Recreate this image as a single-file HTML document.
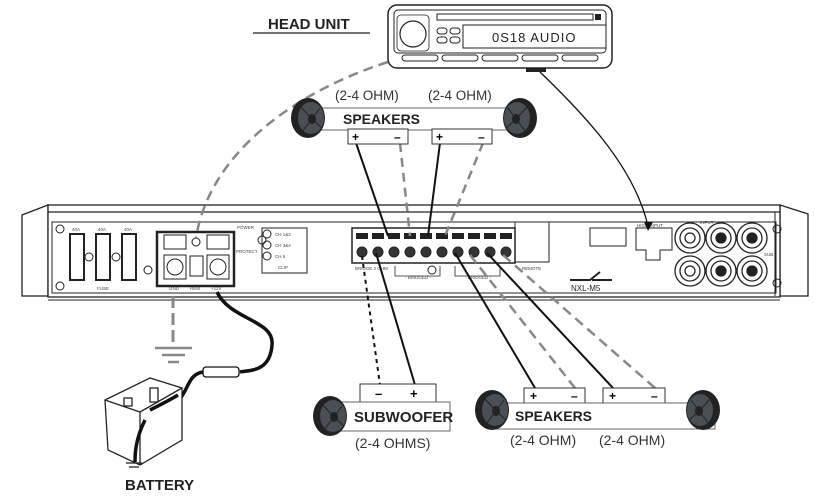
<!DOCTYPE html>
<html><head><meta charset="utf-8"><style>
html,body{margin:0;padding:0;background:#fff;width:815px;height:496px;overflow:hidden}
text{font-family:"Liberation Sans",sans-serif}
</style></head><body>
<svg width="815" height="496" viewBox="0 0 815 496" xmlns="http://www.w3.org/2000/svg">
<defs>
<g id="spk">
<ellipse cx="0" cy="0" rx="17" ry="20" fill="#222"/>
<ellipse cx="3" cy="0" rx="13" ry="16" fill="#4a4f55"/>
<ellipse cx="4" cy="1" rx="4" ry="5" fill="#222"/>
<path d="M-8,-12 L4,1 M12,-10 L4,1 M4,1 L-6,14 M4,1 L14,10" stroke="#222" stroke-width="1"/>
</g>
</defs>
<!-- ground -->
<g stroke="#888" stroke-width="2.5"><line x1="155" y1="348" x2="192" y2="348"/><line x1="162" y1="355" x2="185" y2="355"/><line x1="168" y1="362" x2="179" y2="362"/></g>
<!-- head unit -->
<text x="268" y="29" font-size="15" font-weight="bold" fill="#222">HEAD UNIT</text>
<line x1="253" y1="33" x2="370" y2="33" stroke="#222" stroke-width="1.3"/>
<rect x="388" y="5" width="224" height="63" rx="9" fill="#fff" stroke="#222" stroke-width="1.5"/>
<rect x="394" y="10" width="212" height="43" rx="4" fill="none" stroke="#222" stroke-width="1"/>
<circle cx="413" cy="34" r="13" fill="none" stroke="#222" stroke-width="1.2"/>
<rect x="397" y="15" width="32" height="36" rx="4" fill="none" stroke="#222" stroke-width="0.8"/>
<rect x="437" y="14" width="156" height="6" fill="none" stroke="#222" stroke-width="1"/>
<rect x="595" y="14" width="6" height="6" fill="#222"/>
<rect x="437" y="28" width="10" height="6" rx="3" fill="none" stroke="#222"/><rect x="450" y="28" width="10" height="6" rx="3" fill="none" stroke="#222"/>
<rect x="437" y="37" width="10" height="6" rx="3" fill="none" stroke="#222"/><rect x="450" y="37" width="10" height="6" rx="3" fill="none" stroke="#222"/>
<rect x="463" y="25" width="143" height="23" fill="none" stroke="#222"/>
<text x="492" y="42" font-size="13" fill="#222" font-family="Liberation Mono" letter-spacing="1">0S18 AUDIO</text>
<g fill="none" stroke="#222"><rect x="402" y="55" width="36" height="6" rx="3"/><rect x="442" y="55" width="36" height="6" rx="3"/><rect x="482" y="55" width="36" height="6" rx="3"/><rect x="522" y="55" width="36" height="6" rx="3"/><rect x="562" y="55" width="36" height="6" rx="3"/></g>
<rect x="526" y="68" width="20" height="4" fill="#222"/>
<!-- amp -->
<polygon points="22,215 48,205 48,296 22,296" fill="#fff" stroke="#222" stroke-width="1.3"/>
<polygon points="780,205 808,214 808,296 780,296" fill="#fff" stroke="#222" stroke-width="1.3"/>
<rect x="48" y="205" width="732" height="92" fill="#fff" stroke="#222" stroke-width="1.3"/>
<line x1="48" y1="212" x2="780" y2="212" stroke="#222" stroke-width="1.3"/>
<line x1="48" y1="300" x2="780" y2="300" stroke="#222" stroke-width="1"/>
<rect x="52" y="222" width="724" height="71" fill="none" stroke="#222" stroke-width="1"/>
<line x1="775" y1="212" x2="775" y2="296" stroke="#222"/>
<g fill="none" stroke="#222">
<circle cx="60" cy="229" r="4"/><circle cx="60" cy="286" r="4"/><circle cx="777" cy="229" r="4"/><circle cx="777" cy="283" r="4"/>
<rect x="70" y="234" width="14" height="46" stroke-width="2"/><rect x="96" y="234" width="14" height="46" stroke-width="2"/><rect x="122" y="234" width="14" height="46" stroke-width="2"/>
<circle cx="89" cy="257" r="4"/><circle cx="116" cy="257" r="4"/><circle cx="148" cy="270" r="4"/>
<rect x="157" y="232" width="77" height="54" stroke-width="2.5"/>
<rect x="164" y="235" width="22" height="14"/><rect x="207" y="235" width="22" height="14"/>
<rect x="164" y="255" width="22" height="24"/><rect x="207" y="255" width="22" height="24"/>
<circle cx="175" cy="267" r="8"/><circle cx="218" cy="267" r="8"/>
<rect x="190" y="256" width="13" height="20"/><circle cx="196" cy="242" r="4"/>
<circle cx="262" cy="240" r="4"/>
<circle cx="267" cy="234" r="4"/><circle cx="267" cy="245" r="4"/><circle cx="267" cy="256" r="4"/>
<rect x="262" y="228" width="45" height="45"/>
<rect x="352" y="228" width="163" height="35" stroke-width="1.5"/>
<rect x="515" y="222" width="34" height="40"/>
<rect x="590" y="228" width="36" height="18"/>
<path d="M636,228 L672,228 L672,250 L660,250 L660,260 L646,260 L646,250 L636,250 Z"/>
<path d="M395,266 L395,276 L440,276 L440,266 M455,266 L455,276 L500,276 L500,266" stroke-width="0.8"/>
<circle cx="432" cy="270" r="4"/>
</g>
<g fill="#222">
<rect x="356" y="233" width="12" height="6"/><rect x="372" y="233" width="12" height="6"/><rect x="388" y="233" width="12" height="6"/><rect x="404" y="233" width="12" height="6"/><rect x="420" y="233" width="12" height="6"/><rect x="436" y="233" width="12" height="6"/><rect x="452" y="233" width="12" height="6"/><rect x="468" y="233" width="12" height="6"/><rect x="484" y="233" width="12" height="6"/><rect x="500" y="233" width="12" height="6"/>
</g>
<g fill="#333" stroke="#222">
<circle cx="362" cy="252" r="5"/><circle cx="378" cy="252" r="5"/><circle cx="394" cy="252" r="5"/><circle cx="410" cy="252" r="5"/><circle cx="426" cy="252" r="5"/><circle cx="442" cy="252" r="5"/><circle cx="458" cy="252" r="5"/><circle cx="474" cy="252" r="5"/><circle cx="490" cy="252" r="5"/><circle cx="506" cy="252" r="5"/>
</g>
<g fill="none" stroke="#222" stroke-width="1.3">
<circle cx="690" cy="238" r="15"/><circle cx="690" cy="238" r="10"/><circle cx="690" cy="238" r="5"/>
<circle cx="721" cy="238" r="15"/><circle cx="721" cy="238" r="10"/><circle cx="721" cy="238" r="5" fill="#222"/>
<circle cx="752" cy="238" r="15"/><circle cx="752" cy="238" r="10"/><circle cx="752" cy="238" r="5" fill="#222"/>
<circle cx="690" cy="271" r="15"/><circle cx="690" cy="271" r="10"/><circle cx="690" cy="271" r="5"/>
<circle cx="721" cy="271" r="15"/><circle cx="721" cy="271" r="10"/><circle cx="721" cy="271" r="5" fill="#222"/>
<circle cx="752" cy="271" r="15"/><circle cx="752" cy="271" r="10"/><circle cx="752" cy="271" r="5" fill="#222"/>
</g>
<path d="M570,280 L590,280 L600,272 M592,280 L612,280" stroke="#222" stroke-width="2" fill="none"/>
<text x="571" y="291" font-size="8" fill="#222">NXL-M5</text>
<g font-size="4.5" fill="#444">
<text x="72" y="231">40A</text><text x="98" y="231">40A</text><text x="124" y="231">40A</text><text x="97" y="290">FUSE</text>
<text x="169" y="290">GND</text><text x="190" y="290">REM</text><text x="211" y="290">+12V</text>
<text x="237" y="229">POWER</text><text x="236" y="253">PROTECT</text>
<text x="275" y="236">CH 1&amp;2</text><text x="275" y="247">CH 3&amp;4</text><text x="275" y="258">CH 5</text><text x="278" y="269">CLIP</text>
<text x="355" y="270">BRIDGE 2 OHM</text><text x="405" y="279">- BRIDGED -</text><text x="465" y="279">- BRIDGED -</text>
<text x="522" y="270">REMOTE</text><text x="637" y="227">HIGH INPUT</text><text x="700" y="224">INPUT</text>
<text x="764" y="256">SUB</text>
</g>
<!-- wires on top -->
<g fill="none">
<path d="M388,62 C300,90 210,150 196,238" stroke="#888" stroke-width="2.5" stroke-dasharray="10,6"/>
<path d="M540,72 C590,120 635,170 648,226" stroke="#111" stroke-width="1.3"/>
<path d="M356,143 L388,236" stroke="#111" stroke-width="2"/>
<path d="M400,143 L410,236" stroke="#888" stroke-width="2.5" stroke-dasharray="9,6"/>
<path d="M440,143 L428,236" stroke="#111" stroke-width="2"/>
<path d="M483,143 L445,236" stroke="#888" stroke-width="2.5" stroke-dasharray="9,6"/>
<path d="M362,256 L380,385" stroke="#111" stroke-width="2" stroke-dasharray="4,4"/>
<path d="M376,253 L415,385" stroke="#111" stroke-width="2"/>
<path d="M455,253 L535,388" stroke="#111" stroke-width="2"/>
<path d="M470,255 L575,388" stroke="#888" stroke-width="2.5" stroke-dasharray="10,6"/>
<path d="M487,253 L613,388" stroke="#111" stroke-width="2"/>
<path d="M503,255 L655,388" stroke="#888" stroke-width="2.5" stroke-dasharray="10,6"/>
<path d="M173,296 L173,345" stroke="#888" stroke-width="3" stroke-dasharray="12,5"/>
<path d="M217,292 C230,320 275,320 272,345 C270,372 250,370 240,372" stroke="#111" stroke-width="3.5"/>
<path d="M203,372 C185,375 190,395 172,405" stroke="#111" stroke-width="3.5"/>
</g>
<polygon points="644,222 653,222 648,231" fill="#111"/>
<rect x="203" y="367" width="36" height="10" rx="3" fill="#fff" stroke="#111" stroke-width="1.3"/>
<!-- top speakers -->
<text x="335" y="100" font-size="13.5" fill="#333">(2-4 OHM)</text>
<text x="428" y="100" font-size="13.5" fill="#333">(2-4 OHM)</text>
<rect x="305" y="108" width="220" height="22" fill="#fff" stroke="#666" stroke-width="1"/>
<use href="#spk" x="308" y="118"/>
<use href="#spk" transform="translate(520,118) scale(-1,1)"/>
<text x="343" y="124" font-size="14" font-weight="bold" fill="#222">SPEAKERS</text>
<rect x="348" y="129" width="60" height="15" fill="#fff" stroke="#333"/>
<rect x="432" y="129" width="60" height="15" fill="#fff" stroke="#333"/>
<text x="352" y="141" font-size="12" font-weight="bold">+</text><text x="394" y="141" font-size="12" font-weight="bold">–</text>
<text x="436" y="141" font-size="12" font-weight="bold">+</text><text x="478" y="141" font-size="12" font-weight="bold">–</text>
<!-- battery -->
<g fill="#fff" stroke="#222" stroke-width="1.3">
<path d="M105,400 L150,378 L182,388 L182,440 L140,465 L108,450 Z"/>
<path d="M105,400 L140,412 L182,388 M140,412 L140,465"/>
<rect x="150" y="388" width="8" height="14"/><rect x="124" y="398" width="8" height="8"/>
</g>
<path d="M178,395 C170,400 160,405 150,410" stroke="#111" stroke-width="3.5" fill="none"/>
<path d="M145,420 C135,440 135,455 135,462" stroke="#111" stroke-width="3.5" fill="none"/>
<g stroke="#222" stroke-width="1.3"><line x1="126" y1="463" x2="142" y2="463"/><line x1="129" y1="467" x2="139" y2="467"/></g>
<text x="125" y="490" font-size="15" font-weight="bold" fill="#222">BATTERY</text>
<!-- subwoofer -->
<rect x="360" y="384" width="76" height="19" fill="#fff" stroke="#333"/>
<text x="375" y="398" font-size="13" font-weight="bold">–</text><text x="410" y="398" font-size="13" font-weight="bold">+</text>
<rect x="336" y="402" width="114" height="29" fill="#fff" stroke="#666"/>
<use href="#spk" x="330" y="416"/>
<text x="354" y="422" font-size="15" font-weight="bold" fill="#222">SUBWOOFER</text>
<text x="355" y="448" font-size="14" fill="#333">(2-4 OHMS)</text>
<!-- bottom speakers -->
<rect x="524" y="388" width="61" height="15" fill="#fff" stroke="#333"/>
<rect x="603" y="388" width="62" height="15" fill="#fff" stroke="#333"/>
<text x="530" y="400" font-size="12" font-weight="bold">+</text><text x="571" y="400" font-size="12" font-weight="bold">–</text>
<text x="609" y="400" font-size="12" font-weight="bold">+</text><text x="651" y="400" font-size="12" font-weight="bold">–</text>
<rect x="495" y="403" width="220" height="26" fill="#fff" stroke="#666"/>
<use href="#spk" x="492" y="410"/>
<use href="#spk" transform="translate(703,410) scale(-1,1)"/>
<text x="515" y="421" font-size="14" font-weight="bold" fill="#222">SPEAKERS</text>
<text x="510" y="445" font-size="14" fill="#333">(2-4 OHM)</text>
<text x="599" y="445" font-size="14" fill="#333">(2-4 OHM)</text>
</svg>
</body></html>
